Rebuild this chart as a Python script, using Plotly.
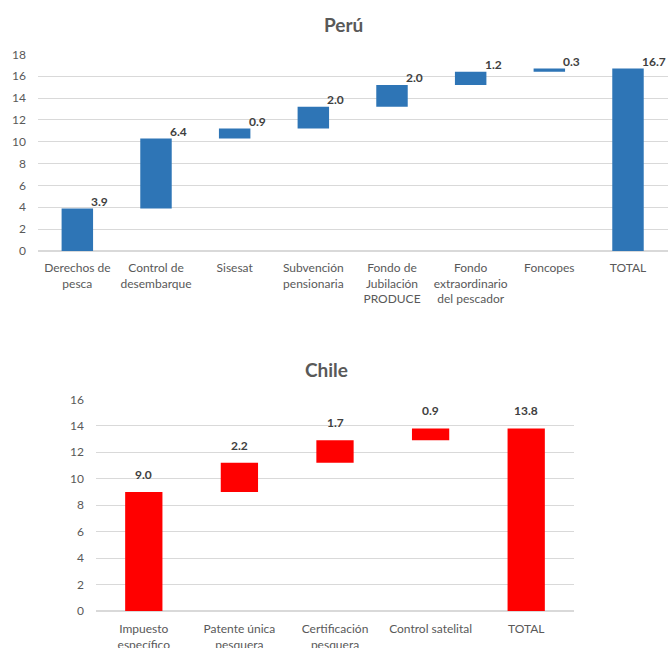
import plotly.graph_objects as go

# Perú: contributions and total
peru_categories = [
    "Derechos de<br>pesca",
    "Control de<br>desembarque",
    "Sisesat",
    "Subvención<br>pensionaria",
    "Fondo de<br>Jubilación<br>PRODUCE",
    "Fondo<br>extraordinario<br>del pescador",
    "Foncopes",
    "TOTAL",
]
peru_values = [3.9, 6.4, 0.9, 2.0, 2.0, 1.2, 0.3, 16.7]
peru_measures = ["relative"] * 7 + ["total"]

# Chile: contributions and total
chile_categories = [
    "Impuesto<br>específico",
    "Patente única<br>pesquera",
    "Certificación<br>pesquera",
    "Control satelital",
    "TOTAL",
]
chile_values = [9.0, 2.2, 1.7, 0.9, 13.8]
chile_measures = ["relative"] * 4 + ["total"]

W, H = 668, 648
FONT = "Lato, Open Sans, sans-serif"
GRAY = "#595959"
LABEL = "#404040"
GRID = "#D9D9D9"
BLUE = "#2E75B6"
RED = "#FF0000"


def px_x(p):
    return p / W


def px_y(p):
    return 1 - p / H


fig = go.Figure()

fig.add_trace(go.Waterfall(
    x=peru_categories, y=peru_values, measure=peru_measures,
    xaxis="x", yaxis="y", width=0.4,
    increasing=dict(marker=dict(color=BLUE)),
    decreasing=dict(marker=dict(color=BLUE)),
    totals=dict(marker=dict(color=BLUE)),
    connector=dict(visible=False),
    hoverinfo="skip", showlegend=False,
))

fig.add_trace(go.Waterfall(
    x=chile_categories, y=chile_values, measure=chile_measures,
    xaxis="x2", yaxis="y2", width=0.39,
    increasing=dict(marker=dict(color=RED)),
    decreasing=dict(marker=dict(color=RED)),
    totals=dict(marker=dict(color=RED)),
    connector=dict(visible=False),
    hoverinfo="skip", showlegend=False,
))

annotations = []


def bar_tops(values, measures):
    tops, run = [], 0.0
    for v, m in zip(values, measures):
        if m == "total":
            tops.append(v)
        else:
            run += v
            tops.append(run)
    return tops


for cat, val, top in zip(peru_categories, peru_values,
                         bar_tops(peru_values, peru_measures)):
    annotations.append(dict(
        x=cat, y=top, xref="x", yref="y", text=f"<b>{val:.1f}</b>",
        showarrow=False, xanchor="left", yanchor="middle",
        xshift=12, yshift=7,
        font=dict(family=FONT, size=12, color=LABEL),
    ))

for cat, val, top in zip(chile_categories, chile_values,
                         bar_tops(chile_values, chile_measures)):
    annotations.append(dict(
        x=cat, y=top, xref="x2", yref="y2", text=f"<b>{val:.1f}</b>",
        showarrow=False, xanchor="center", yanchor="middle",
        yshift=17.5,
        font=dict(family=FONT, size=12, color=LABEL),
    ))

annotations.append(dict(
    x=px_x(343), y=px_y(25), xref="paper", yref="paper",
    text="<b>Perú</b>", showarrow=False, xanchor="center", yanchor="middle",
    font=dict(family=FONT, size=19, color=GRAY),
))
annotations.append(dict(
    x=px_x(326), y=px_y(369), xref="paper", yref="paper",
    text="<b>Chile</b>", showarrow=False, xanchor="center", yanchor="middle",
    font=dict(family=FONT, size=19, color=GRAY),
))

axis_font = dict(family=FONT, size=12, color=GRAY)

fig.update_layout(
    width=W, height=H,
    margin=dict(l=0, r=0, t=0, b=0, autoexpand=False),
    paper_bgcolor="white", plot_bgcolor="white",
    font=dict(family=FONT, color=GRAY),
    annotations=annotations,
    xaxis=dict(
        domain=[px_x(38), px_x(668)], anchor="y", automargin=False,
        showgrid=False, showline=False, ticks="",
        tickfont=axis_font, ticklabelstandoff=8,
    ),
    yaxis=dict(
        domain=[px_y(251), px_y(54.3)], anchor="x", automargin=False,
        range=[0, 18], dtick=2, showgrid=True, gridcolor=GRID,
        zeroline=True, zerolinecolor=GRID, showline=False,
        tickfont=axis_font, ticklabelstandoff=11,
    ),
    xaxis2=dict(
        domain=[px_x(96), px_x(574)], anchor="y2", automargin=False,
        showgrid=False, showline=False, ticks="",
        tickfont=axis_font, ticklabelstandoff=9,
    ),
    yaxis2=dict(
        domain=[px_y(611), px_y(399.3)], anchor="x2", automargin=False,
        range=[0, 16], dtick=2, showgrid=True, gridcolor=GRID,
        zeroline=True, zerolinecolor=GRID, showline=False,
        tickfont=axis_font, ticklabelstandoff=11,
    ),
)

fig.write_html("out.html")
